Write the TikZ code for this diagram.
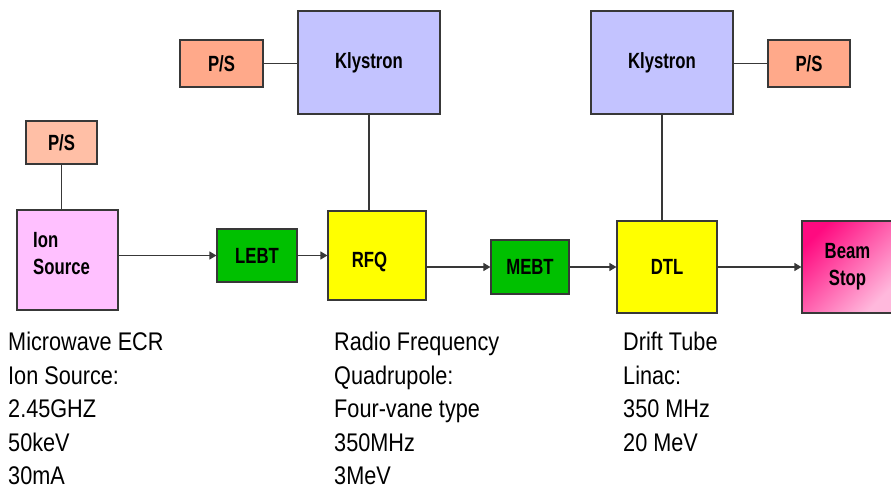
\documentclass[tikz,border=0pt]{standalone}
\usepackage{fontspec}
\setmainfont{Liberation Sans}[FakeStretch=0.85]
\newfontfamily\lblfont{Liberation Sans}[FakeStretch=0.76]
\usetikzlibrary{arrows.meta}
\definecolor{psA}{HTML}{FFBFA6}
\definecolor{psB}{HTML}{FFA98A}
\definecolor{klyc}{HTML}{C3C3FF}
\definecolor{ionc}{HTML}{FFC0FF}
\definecolor{grn}{HTML}{00C000}
\definecolor{yel}{HTML}{FFFF00}
\definecolor{bsA}{HTML}{FF0A80}
\definecolor{bsB}{HTML}{FFB8DC}
\definecolor{edge}{HTML}{383838}
\tikzset{
  blk/.style={draw=edge, line width=1.2pt, inner sep=0pt, align=center,
    font=\lblfont\fontsize{22}{27}\selectfont\bfseries},
  lbl/.style={inner sep=0pt, align=left, font=\lblfont\fontsize{22}{27}\selectfont\bfseries},
  conn/.style={draw=edge, line width=1.2pt},
  arr/.style={conn, -{Triangle[length=7pt,width=8pt]}},
  body/.style={inner sep=0pt, align=left, anchor=north west,
    font=\fontsize{25.5}{33.5}\selectfont}
}
\begin{document}
\begin{tikzpicture}[x=1pt,y=-1pt]
\useasboundingbox (0,0) rectangle (891,490);
% boxes
\node[blk, fill=psA, minimum width=71pt, minimum height=43pt] (ps1) at (61.5,142.5) {P/S};
\node[blk, fill=ionc, minimum width=101pt, minimum height=100pt] (ion) at (67.5,260) {};
\node[lbl, anchor=west] (iontext) at (33,253.5) {Ion\\Source};
\node[blk, fill=grn, minimum width=80pt, minimum height=53pt] (lebt) at (257,255.5) {LEBT};
\node[blk, fill=yel, minimum width=98pt, minimum height=89pt] (rfq) at (377,255.5) {};
\node[lbl] (rfqtext) at (369.5,262) {RFQ};
\node[blk, fill=klyc, minimum width=142pt, minimum height=103pt] (kly1) at (369,62.5) {Klystron};
\node[blk, fill=psB, minimum width=83pt, minimum height=47pt] (ps2) at (221.5,63.5) {P/S};
\node[blk, fill=grn, minimum width=78pt, minimum height=54pt] (mebt) at (530,267) {MEBT};
\node[blk, fill=klyc, minimum width=142pt, minimum height=103pt] (kly2) at (662,62.5) {Klystron};
\node[blk, fill=psB, minimum width=82pt, minimum height=47pt] (ps3) at (809,63.5) {P/S};
\node[blk, fill=yel, minimum width=100pt, minimum height=92pt] (dtl) at (667,267) {DTL};
\node[blk, top color=bsA, bottom color=bsB, shading angle=45,
      minimum width=91pt, minimum height=92pt] (beam) at (847.5,267) {Beam\\Stop};
% connectors
\draw[conn] (ps1.south) -- (ps1.south |- ion.north);
\draw[arr] (ion.east |- lebt.west) -- (lebt.west);
\draw[arr] (lebt.east) -- (lebt.east -| rfq.west);
\draw[conn] (ps2.east) -- (ps2.east -| kly1.west);
\draw[conn] (kly1.south) -- (kly1.south |- rfq.north);
\draw[arr] (rfq.east |- mebt.west) -- (mebt.west);
\draw[arr] (mebt.east) -- (mebt.east -| dtl.west);
\draw[conn] (kly2.south) -- (kly2.south |- dtl.north);
\draw[conn] (kly2.east |- ps3.west) -- (ps3.west);
\draw[arr] (dtl.east) -- (beam.west);
% descriptions
\node[body] (d1) at (8,332) {Microwave ECR\\Ion Source:\\2.45GHZ\\50keV\\30mA};
\node[body] (d2) at (334,332) {Radio Frequency\\Quadrupole:\\Four-vane type\\350MHz\\3MeV};
\node[body] (d3) at (623,332) {Drift Tube\\Linac:\\350 MHz\\20 MeV};
\end{tikzpicture}
\end{document}
